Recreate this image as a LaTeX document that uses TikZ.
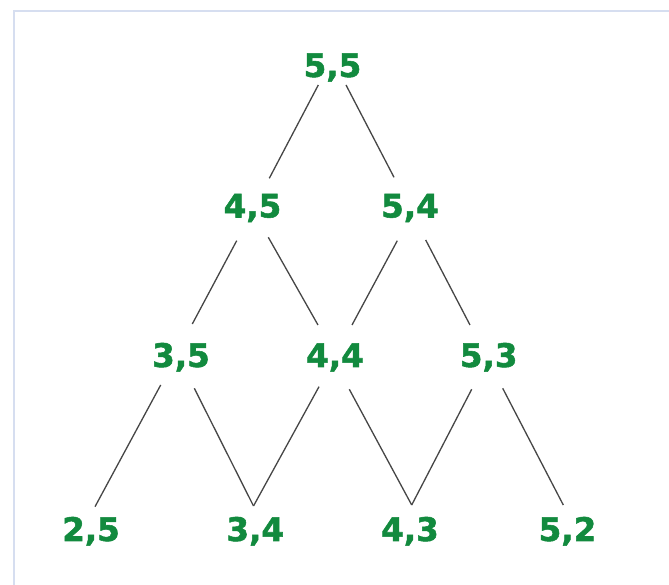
\documentclass[tikz,border=0pt]{standalone}
\usepackage{fontspec}
\setmainfont{DejaVu Sans}
\newfontface\lblfont{DejaVu Sans Bold}[FakeBold=1.6]
\definecolor{lblgreen}{RGB}{18,138,62}
\definecolor{edgegray}{RGB}{70,70,70}
\definecolor{framecol}{RGB}{214,222,240}
\begin{document}
\begin{tikzpicture}[x=1pt,y=1pt,
  lbl/.style={text=lblgreen, font=\fontsize{32.5}{32.5}\lblfont,
    inner sep=0pt, text height=24pt, text depth=0pt, anchor=center},
  edge/.style={draw=edgegray, line width=1.3pt}]
\useasboundingbox (0,0) rectangle (669,585);
\fill[white] (0,0) rectangle (669,585);
\draw[framecol, line width=2pt] (14,0) -- (14,574) -- (669,574);
% nodes
\node[lbl] (A) at (332.5,520) {5,5};
\node[lbl] (B) at (252.5,379.5) {4,5};
\node[lbl] (C) at (410,379.5) {5,4};
\node[lbl] (D) at (181,230) {3,5};
\node[lbl] (E) at (335,230) {4,4};
\node[lbl] (F) at (488.7,230) {5,3};
\node[lbl] (G) at (91,56) {2,5};
\node[lbl] (H) at (255.3,56) {3,4};
\node[lbl] (I) at (410,56) {4,3};
\node[lbl] (J) at (567.5,56) {5,2};
% connectors
\draw[edge] ([shift={(-14.2,-20)}]A.center) -- ([shift={(16.8,27.2)}]B.center);
\draw[edge] ([shift={(13.5,-20)}]A.center) -- ([shift={(-16,28.2)}]C.center);
\draw[edge] ([shift={(-15.8,-35.2)}]B.center) -- ([shift={(11.3,31)}]D.center);
\draw[edge] ([shift={(15.8,-31.8)}]B.center) -- ([shift={(-17,30)}]E.center);
\draw[edge] ([shift={(-12.7,-35.2)}]C.center) -- ([shift={(17,30)}]E.center);
\draw[edge] ([shift={(15.7,-34.5)}]C.center) -- ([shift={(-18.7,30)}]F.center);
\draw[edge] ([shift={(-20.3,-30)}]D.center) -- ([shift={(4,22.3)}]G.center);
\draw[edge] ([shift={(13.3,-33.3)}]D.center) -- ([shift={(-1.8,23)}]H.center);
\draw[edge] ([shift={(-16,-31.7)}]E.center) -- ([shift={(-1.8,23)}]H.center);
\draw[edge] ([shift={(14.3,-34.3)}]E.center) -- ([shift={(1.7,24)}]I.center);
\draw[edge] ([shift={(-17,-34.3)}]F.center) -- ([shift={(1.7,24)}]I.center);
\draw[edge] ([shift={(14,-33.3)}]F.center) -- ([shift={(-4.2,24)}]J.center);
\end{tikzpicture}
\end{document}
